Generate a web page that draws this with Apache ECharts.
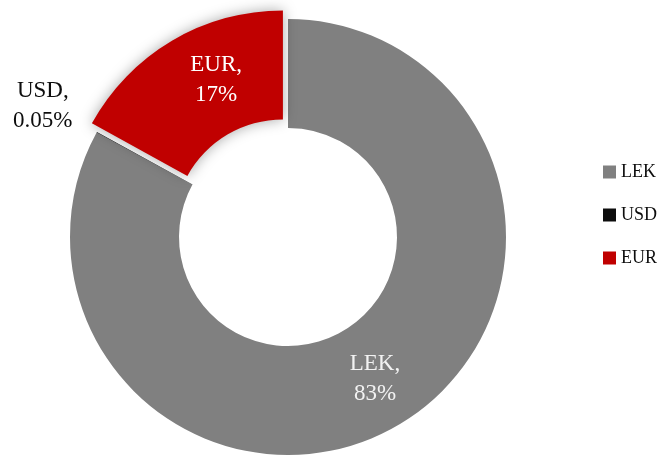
<!DOCTYPE html>
<html>
<head>
<meta charset="utf-8">
<script src="https://cdn.jsdelivr.net/npm/echarts@6/dist/echarts.min.js"></script>
<style>
  html, body { margin: 0; padding: 0; background: #ffffff; }
  #chart { width: 663px; height: 455px; }
</style>
</head>
<body>
<div id="chart"></div>
<script>
const currencies = ["LEK", "USD", "EUR"];
const shares = [82.95, 0.05, 17];
const colors = ["#808080", "#0d0d0d", "#c00000"];

const FONT = "'Liberation Serif', 'DejaVu Serif', serif";

function shareLabel(params) {
  const pct = params.value < 1 ? params.value.toFixed(2) : Math.round(params.value);
  return `${params.name},\n${pct}%`;
}

const pieData = currencies.map((name, i) => {
  const item = {
    name,
    value: shares[i],
    itemStyle: { color: colors[i] },
    label: { position: "inside", color: "#f2f2f2" }
  };
  if (name === "USD") {
    item.label = { position: "outside", color: "#0d0d0d" };
    item.labelLine = { show: false, length: 0, length2: 0 };
  }
  if (name === "EUR") {
    item.selected = true;
    const style = {
      color: colors[i],
      shadowBlur: 14,
      shadowColor: "rgba(0,0,0,0.35)"
    };
    item.itemStyle = style;
    item.select = { itemStyle: style };
    item.label = { position: "inside", color: "#ffffff" };
  }
  return item;
});

const chart = echarts.init(document.getElementById("chart"), null, { renderer: "canvas" });

chart.setOption({
  animation: false,
  legend: {
    orient: "vertical",
    left: 603,
    top: 163,
    padding: 0,
    icon: "rect",
    itemWidth: 13,
    itemHeight: 13,
    itemGap: 25,
    selectedMode: false,
    data: currencies,
    textStyle: { fontFamily: FONT, fontSize: 18, color: "#0d0d0d", lineHeight: 18 }
  },
  series: [{
    type: "pie",
    center: [288, 237],
    radius: [109, 218],
    startAngle: 90,
    clockwise: true,
    selectedMode: "single",
    selectedOffset: 10,
    avoidLabelOverlap: false,
    emphasis: { disabled: true },
    label: {
      formatter: shareLabel,
      fontFamily: FONT,
      fontSize: 23,
      lineHeight: 30
    },
    labelLayout: (params) => {
      if (params.dataIndex === 1) return { align: "center", dx: -49, dy: -26 };
      if (params.dataIndex === 2) return { dx: 18, dy: -5 };
      return { dx: 2, dy: -1 };
    },
    data: pieData
  }]
});
</script>
</body>
</html>
